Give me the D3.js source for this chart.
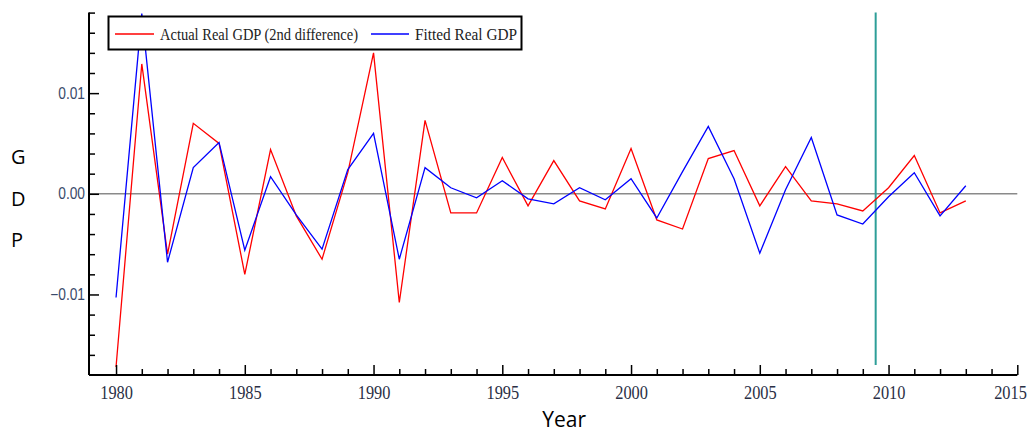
<!DOCTYPE html>
<html>
<head>
<meta charset="utf-8">
<script src="https://cdn.jsdelivr.net/npm/d3@7"></script>
<style>
  html, body { margin: 0; padding: 0; background: #fff; }
  svg { display: block; }
</style>
</head>
<body>
<svg id="chart" width="1033" height="432"></svg>
<script>
// Years covered by the series
const years = [1980,1981,1982,1983,1984,1985,1986,1987,1988,1989,
               1990,1991,1992,1993,1994,1995,1996,1997,1998,1999,
               2000,2001,2002,2003,2004,2005,2006,2007,2008,2009,
               2010,2011,2012,2013];

// Actual real GDP, second difference
const actual = [-0.0172, 0.0129, -0.0060, 0.0070, 0.0050, -0.0080, 0.0044, -0.0022, -0.0065, 0.0021,
                 0.0140, -0.0108, 0.0073, -0.0019, -0.0019, 0.0036, -0.0012, 0.0033, -0.0007, -0.0015,
                 0.0045, -0.0026, -0.0035, 0.0035, 0.0043, -0.0012, 0.0027, -0.0007, -0.0010, -0.0017,
                 0.0006, 0.0038, -0.0019, -0.0007];

// Fitted real GDP
const fitted = [-0.0103, 0.0179, -0.0068, 0.0026, 0.0051, -0.0056, 0.0017, -0.0021, -0.0055, 0.0024,
                 0.0060, -0.0065, 0.0026, 0.0006, -0.0004, 0.0013, -0.0005, -0.0010, 0.0006, -0.0006,
                 0.0015, -0.0024, 0.0022, 0.0067, 0.0015, -0.0059, 0.0004, 0.0056, -0.0021, -0.0030,
                -0.0003, 0.0021, -0.0022, 0.0008];

// Tick values
const xMajorTicks = [1980, 1985, 1990, 1995, 2000, 2005, 2010, 2015];
const xMinorTicks = d3.range(1980, 2016).filter(y => y % 5 !== 0);
const yMajorTicks = [-0.01, 0.00, 0.01];
const yMinorTicks = [-0.016, -0.014, -0.012, -0.008, -0.006, -0.004, -0.002,
                      0.002, 0.004, 0.006, 0.008, 0.012, 0.014, 0.016, 0.018];

// Year where the forecast period starts (vertical marker)
const forecastStart = 2009.5;

const seriesNames = ["Actual Real GDP (2nd difference)", "Fitted Real GDP"];
const seriesColors = ["#ff0000", "#0000ff"];

const svg = d3.select("#chart");

const x = d3.scaleLinear().domain([1978.95, 2015]).range([89, 1017.3]);
const y = d3.scaleLinear().domain([-0.018, 0.018]).range([375, 12.6]);

// Zero reference line
svg.append("line")
  .attr("x1", x.range()[0]).attr("x2", x(2015))
  .attr("y1", y(0)).attr("y2", y(0))
  .attr("stroke", "#8a8a8a").attr("stroke-width", 1.6);

// Forecast-start marker
svg.append("line")
  .attr("x1", x(forecastStart)).attr("x2", x(forecastStart))
  .attr("y1", y(0.018)).attr("y2", y(-0.017))
  .attr("stroke", "#2e9e98").attr("stroke-width", 2);

// Series lines
const line = d3.line().x((d, i) => x(years[i])).y(d => y(d));
[actual, fitted].forEach((vals, k) => {
  svg.append("path")
    .datum(vals)
    .attr("fill", "none")
    .attr("stroke", seriesColors[k])
    .attr("stroke-width", 1.3)
    .attr("stroke-linejoin", "miter")
    .attr("d", line);
});

// X axis: major ticks with labels, minor ticks without
const xAxisG = svg.append("g").attr("transform", `translate(0,${y.range()[0]})`);
xAxisG.call(d3.axisBottom(x).tickValues(xMajorTicks).tickFormat(d3.format("d"))
  .tickSizeInner(-10).tickSizeOuter(0).tickPadding(11));
const xMinorG = svg.append("g").attr("transform", `translate(0,${y.range()[0]})`);
xMinorG.call(d3.axisBottom(x).tickValues(xMinorTicks).tickFormat("")
  .tickSizeInner(-6).tickSizeOuter(0));

// Y axis: major ticks with labels, minor ticks without
const yAxisG = svg.append("g").attr("transform", `translate(${x.range()[0]},0)`);
yAxisG.call(d3.axisLeft(y).tickValues(yMajorTicks).tickFormat(d3.format(".2f"))
  .tickSizeInner(-10).tickSizeOuter(0).tickPadding(4));
const yMinorG = svg.append("g").attr("transform", `translate(${x.range()[0]},0)`);
yMinorG.call(d3.axisLeft(y).tickValues(yMinorTicks).tickFormat("")
  .tickSizeInner(-6).tickSizeOuter(0));

[xAxisG, xMinorG, yAxisG, yMinorG].forEach(g => {
  g.select(".domain").remove();
  g.selectAll(".tick line").attr("stroke", "#000").attr("stroke-width", 1.5);
});

// Axis lines
svg.append("line")
  .attr("x1", x.range()[0]).attr("x2", x(2015))
  .attr("y1", y.range()[0]).attr("y2", y.range()[0])
  .attr("stroke", "#000").attr("stroke-width", 2);
svg.append("line")
  .attr("x1", x.range()[0]).attr("x2", x.range()[0])
  .attr("y1", y.range()[1]).attr("y2", y.range()[0])
  .attr("stroke", "#000").attr("stroke-width", 2);

// Tick label styling (narrow faces)
xAxisG.selectAll(".tick text")
  .attr("font-family", "'Liberation Serif', 'Times New Roman', serif")
  .attr("font-size", 19)
  .attr("fill", "#2a2f45")
  .each(function() {
    const w = this.getComputedTextLength();
    d3.select(this).attr("textLength", w * 0.86).attr("lengthAdjust", "spacingAndGlyphs");
  });
// keep the last year label inside the right edge
xAxisG.selectAll(".tick text").filter(d => d === 2015)
  .attr("text-anchor", "end").attr("dx", 9);

yAxisG.selectAll(".tick text")
  .attr("font-family", "'Liberation Sans', Arial, sans-serif")
  .attr("font-size", 16)
  .attr("fill", "#3a4a6a")
  .each(function() {
    const w = this.getComputedTextLength();
    d3.select(this).attr("textLength", w * 0.86).attr("lengthAdjust", "spacingAndGlyphs");
  });

// Axis titles
svg.append("text")
  .attr("x", x(1997.4)).attr("y", 427)
  .attr("text-anchor", "middle")
  .attr("font-family", "'Open Sans', 'Noto Sans', sans-serif")
  .attr("font-size", 21)
  .attr("fill", "#000")
  .text("Year");

const gdpLetters = ["G", "D", "P"];
const gdpBaselines = [164, 206, 247];
svg.selectAll("text.ylab").data(gdpLetters).enter().append("text")
  .attr("class", "ylab")
  .attr("x", 11)
  .attr("y", (d, i) => gdpBaselines[i])
  .attr("font-family", "'Open Sans', 'Noto Sans', sans-serif")
  .attr("font-size", 20)
  .attr("fill", "#000")
  .text(d => d);

// Legend
const legend = svg.append("g");
legend.append("rect")
  .attr("x", 108.5).attr("y", 16.5).attr("width", 413).attr("height", 33)
  .attr("fill", "#fff").attr("stroke", "#000").attr("stroke-width", 2);
const legendItems = [
  { sx: 115, ex: 154, tx: 160, tw: 198 },
  { sx: 371, ex: 409, tx: 415, tw: 102 }
];
legendItems.forEach((it, k) => {
  legend.append("line")
    .attr("x1", it.sx).attr("x2", it.ex).attr("y1", 34).attr("y2", 34)
    .attr("stroke", seriesColors[k]).attr("stroke-width", 1.6);
  legend.append("text")
    .attr("x", it.tx).attr("y", 40)
    .attr("font-family", "'Liberation Serif', 'Times New Roman', serif")
    .attr("font-size", 17)
    .attr("fill", "#222")
    .attr("textLength", it.tw).attr("lengthAdjust", "spacingAndGlyphs")
    .text(seriesNames[k]);
});
</script>
</body>
</html>
